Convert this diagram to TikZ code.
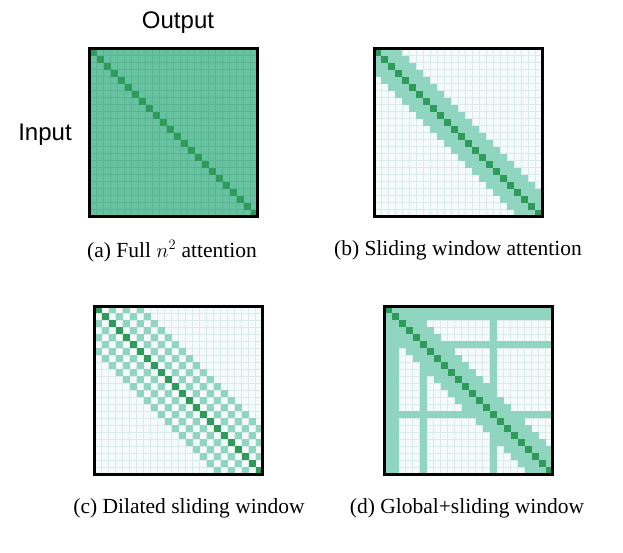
\documentclass[tikz,border=0pt]{standalone}
\usepackage{fontspec}
\setmainfont{Liberation Serif}
\setsansfont{Liberation Sans}
\definecolor{fullgreen}{HTML}{66C2A0}
\definecolor{fullgrid}{HTML}{5BB493}
\definecolor{bandgreen}{HTML}{8FD5C0}
\definecolor{diaggreen}{HTML}{2E9B5B}
\definecolor{paleback}{HTML}{F4FBFA}
\definecolor{gridgray}{HTML}{DDEBE8}
\begin{document}
\begin{tikzpicture}[x=1pt,y=-1pt,
    cell/.style={fill=bandgreen},
    diagcell/.style={fill=diaggreen},
    gridline/.style={draw=gridgray,line width=0.4pt},
    matframe/.style={draw=black,line width=3pt},
    caption/.style={font=\fontsize{21.5}{25}\selectfont,anchor=base},
    axislbl/.style={font=\sffamily\fontsize{24}{28}\selectfont,anchor=base}]
    \useasboundingbox (0,0) rectangle (623,552);

    % (a) full attention
    \begin{scope}[shift={(89.5,48.5)},x=7pt,y=-7pt]
        \fill[fullgreen] (0,0) rectangle (24,24);
        \foreach \k in {1,...,23} {
            \draw[gridline,draw=fullgrid] (\k,0)--(\k,24);
            \draw[gridline,draw=fullgrid] (0,\k)--(24,\k);}
        \foreach \i in {0,...,23} \fill[diagcell] (\i,\i) rectangle ++(1,1);
        \draw[matframe] (0,0) rectangle (24,24);
    \end{scope}

    % (b) sliding window
    \begin{scope}[shift={(374,48.5)},x=7pt,y=-7pt]
        \fill[paleback] (0,0) rectangle (24,24);
        \foreach \k in {1,...,23} {
            \draw[gridline] (\k,0)--(\k,24);
            \draw[gridline] (0,\k)--(24,\k);}
        \begin{scope}
            \clip (0,0) rectangle (24,24);
            \foreach \i in {0,...,23}
                \foreach \k in {-3,...,3} \fill[cell] (\i+\k,\i) rectangle ++(1,1);
        \end{scope}
        \foreach \i in {0,...,23} \fill[diagcell] (\i,\i) rectangle ++(1,1);
        \draw[matframe] (0,0) rectangle (24,24);
    \end{scope}

    % (c) dilated sliding window
    \begin{scope}[shift={(94.5,306)},x=7pt,y=-7pt]
        \fill[paleback] (0,0) rectangle (24,24);
        \foreach \k in {1,...,23} {
            \draw[gridline] (\k,0)--(\k,24);
            \draw[gridline] (0,\k)--(24,\k);}
        \begin{scope}
            \clip (0,0) rectangle (24,24);
            \foreach \i in {0,...,23}
                \foreach \k in {-6,-4,...,6} \fill[cell] (\i+\k,\i) rectangle ++(1,1);
        \end{scope}
        \foreach \i in {0,...,23} \fill[diagcell] (\i,\i) rectangle ++(1,1);
        \draw[matframe] (0,0) rectangle (24,24);
    \end{scope}

    % (d) global + sliding window
    \begin{scope}[shift={(384.5,306)},x=7pt,y=-7pt]
        \fill[paleback] (0,0) rectangle (24,24);
        \foreach \k in {1,...,23} {
            \draw[gridline] (\k,0)--(\k,24);
            \draw[gridline] (0,\k)--(24,\k);}
        \begin{scope}
            \clip (0,0) rectangle (24,24);
            \foreach \i in {0,...,23}
                \foreach \k in {-3,...,3} \fill[cell] (\i+\k,\i) rectangle ++(1,1);
            \foreach \g in {0,1,5,15} {
                \fill[cell] (\g,0) rectangle ++(1,24); % global column
                \fill[cell] (0,\g) rectangle ++(24,1);} % global row
        \end{scope}
        \foreach \i in {0,...,23} \fill[diagcell] (\i,\i) rectangle ++(1,1);
        \draw[matframe] (0,0) rectangle (24,24);
    \end{scope}

    % labels
    \node[axislbl] (outlbl) at (178,28) {Output};
    \node[axislbl] (inlbl) at (45,140) {Input};
    \node[caption] (capa) at (172,257) {(a) Full $n^2$ attention};
    \node[caption] (capb) at (458,255) {(b) Sliding window attention};
    \node[caption] (capc) at (189,513) {(c) Dilated sliding window};
    \node[caption] (capd) at (467,513) {(d) Global+sliding window};
\end{tikzpicture}
\end{document}
